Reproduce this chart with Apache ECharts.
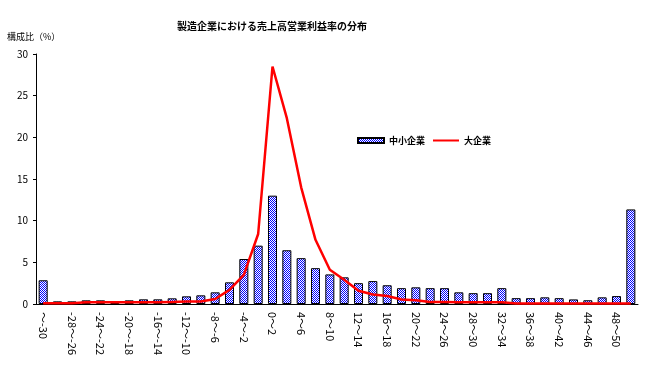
<!DOCTYPE html>
<html><head><meta charset="utf-8">
<script src="https://cdn.jsdelivr.net/npm/echarts@6/dist/echarts.min.js"></script>
<style>html,body{margin:0;padding:0;background:#fff}#c{width:649px;height:379px}</style>
</head><body><div id="c"></div>
<script>
const categories = ["～-30","-30～-28","-28～-26","-26～-24","-24～-22","-22～-20","-20～-18","-18～-16","-16～-14","-14～-12","-12～-10","-10～-8","-8～-6","-6～-4","-4～-2","-2～0","0～2","2～4","4～6","6～8","8～10","10～12","12～14","14～16","16～18","18～20","20～22","22～24","24～26","26～28","28～30","30～32","32～34","34～36","36～38","38～40","40～42","42～44","44～46","46～48","48～50","50～"];
const smallFirms = [2.85,0.32,0.32,0.44,0.44,0.3,0.44,0.56,0.56,0.68,0.92,1.04,1.4,2.6,5.4,7.0,13.0,6.45,5.5,4.3,3.55,3.2,2.5,2.75,2.25,1.9,2.0,1.9,1.9,1.4,1.3,1.3,1.9,0.7,0.7,0.8,0.7,0.55,0.45,0.8,0.95,11.35];
const largeFirms = [0.1,0.1,0.1,0.2,0.2,0.2,0.2,0.2,0.2,0.25,0.3,0.3,0.6,1.7,3.5,8.4,28.5,22.3,14.0,7.7,4.1,2.9,1.6,1.15,0.95,0.55,0.45,0.25,0.25,0.2,0.2,0.2,0.2,0.05,0.05,0.05,0.05,0.05,0.05,0.05,0.05,0.05];
const yTicks = [0,5,10,15,20,25,30];
const titleText = "製造企業における売上高営業利益率の分布";
const yName = "構成比（%）";
const seriesNames = ["中小企業","大企業"];

const pc = document.createElement('canvas');
pc.width = 2; pc.height = 2;
const g = pc.getContext('2d');
g.fillStyle = '#ffffff'; g.fillRect(0,0,2,2);
g.fillStyle = '#0000ff'; g.fillRect(0,0,1,1); g.fillRect(1,1,1,1);
const pattern = {image: pc, repeat: 'repeat'};

const font = '"Noto Sans CJK JP", "Noto Sans", sans-serif';
const chart = echarts.init(document.getElementById('c'), null, {renderer:'canvas'});
chart.setOption({
  animation: false,
  backgroundColor: '#ffffff',
  textStyle: {fontFamily: font},
  title: {text: titleText, left: 172, top: 16, textStyle: {fontSize: 10, fontWeight: 'bold', color: '#000', fontFamily: font}},
  graphic: [{type:'text', left: 7, top: 32, style:{text: yName, font: '9px ' + font, fill:'#000'}}],
  legend: {
    left: 352, top: 131, itemWidth: 26, itemHeight: 5, itemGap: 7,
    textStyle: {fontSize: 9, fontWeight: 'bold', color: '#000', fontFamily: font},
    data: [{name: seriesNames[0], icon: 'rect'}, {name: seriesNames[1], itemStyle: {opacity: 0}}]
  },
  grid: {left: 36, right: 11, top: 54, bottom: 75, containLabel: false},
  xAxis: {
    type: 'category', data: categories,
    axisLine: {lineStyle: {color: '#000', width: 1}},
    axisTick: {show: false},
    axisLabel: {interval: 1, rotate: -90, margin: 8, fontSize: 11, color: '#000', fontFamily: font}
  },
  yAxis: {
    type: 'value', min: yTicks[0], max: yTicks[yTicks.length-1], interval: yTicks[1]-yTicks[0],
    axisLine: {show: true, lineStyle: {color: '#000', width: 1}},
    axisTick: {show: true, length: 3, lineStyle: {color: '#000'}},
    splitLine: {show: false},
    axisLabel: {margin: 8, fontSize: 10, color: '#000', fontFamily: font}
  },
  series: [
    {name: seriesNames[0], type: 'bar', data: smallFirms, barWidth: '63%',
     itemStyle: {color: pattern, borderColor: '#000', borderWidth: 1}},
    {name: seriesNames[1], type: 'line', data: largeFirms, symbol: 'none',
     lineStyle: {color: '#ff0000', width: 2.5}, itemStyle: {color: '#ff0000'}, z: 3}
  ]
});
</script></body></html>
